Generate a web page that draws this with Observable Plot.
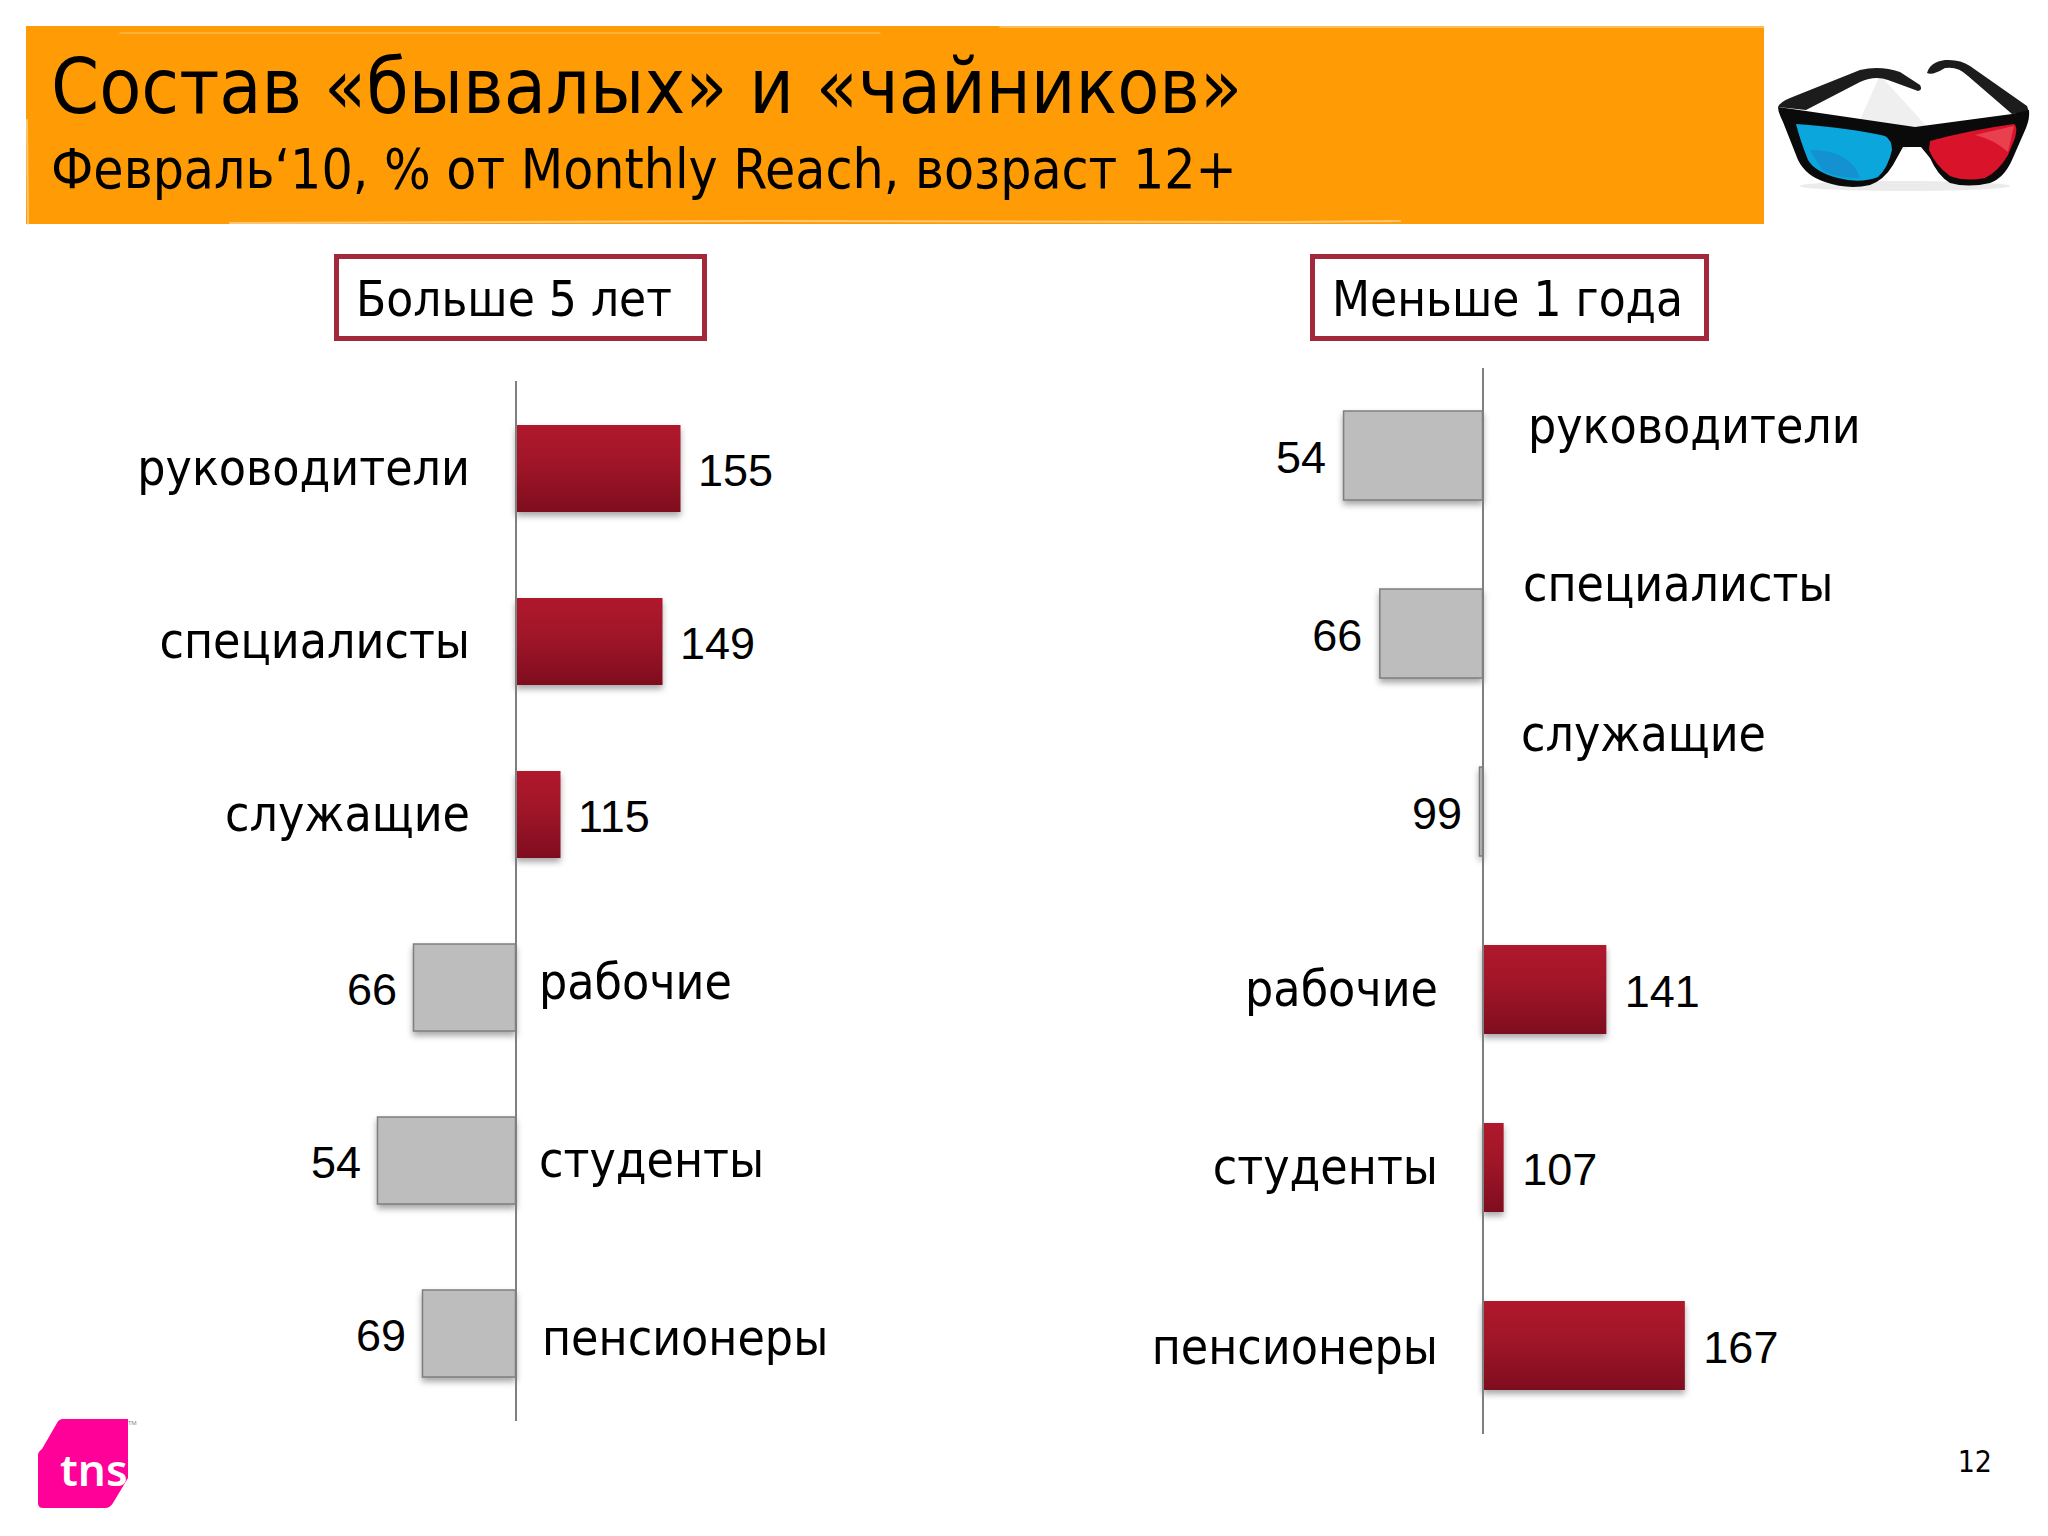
<!DOCTYPE html>
<html lang="ru"><head><meta charset="utf-8">
<script src="https://cdn.jsdelivr.net/npm/d3@7"></script>
<script src="https://cdn.jsdelivr.net/npm/@observablehq/plot@0.6"></script>
<style>
html,body{margin:0;background:#fff}
#page{position:relative;width:2048px;height:1536px;overflow:hidden;font-family:"DejaVu Sans Condensed","Noto Sans",sans-serif;color:#000}
#banner{position:absolute;left:26px;top:26px;width:1738px;height:198px;background:#ff9c05}
.t{position:absolute;white-space:nowrap;line-height:1}
.box{position:absolute;top:254px;height:77px;border:5px solid #a3283c;background:#fff;box-sizing:content-box}
.panel{position:absolute;overflow:visible}
.panel svg{overflow:visible;background:none;position:absolute;left:0;top:0}
.bar-mark{filter:drop-shadow(0 4px 3px rgba(0,0,0,.35))}
</style></head><body>
<div id="page">
<div id="banner"></div>
<div class="t" id="title" style="left:51px;top:49px;font-size:76.6px">Состав «бывалых» и «чайников»</div>
<div class="t" id="subtitle" style="left:51px;top:142px;font-size:54.7px">Февраль‘10, % от Monthly Reach, возраст 12+</div>
<div class="box" style="left:334px;width:363px"></div>
<div class="box" style="left:1310px;width:389px"></div>
<div class="t" style="left:356px;top:275px;font-size:49px">Больше 5 лет</div>
<div class="t" style="left:1332px;top:275px;font-size:49px">Меньше 1 года</div>
<div class="panel" id="left" style="left:0;top:381px;width:1024px;height:1040px"></div>
<div class="panel" id="right" style="left:1024px;top:368px;width:1024px;height:1066px"></div>
<svg style="position:absolute;left:0;top:0" width="2048" height="1536">
  <g stroke="#ffd9a0" fill="none" stroke-linecap="round" opacity=".7">
    <path d="M120 33 L880 33" stroke-width="1"/>
    <path d="M230 223 L760 221 L1290 222 L1400 221" stroke-width="2"/>
    <path d="M1000 27 L1764 27" stroke-width="1.5"/>
    <path d="M27 120 L28 224" stroke-width="2"/>
  </g>
  <ellipse cx="1905" cy="186" rx="105" ry="5" fill="#ddd" opacity=".6"/>
  <path d="M1880 75 L1930 130 L1905 150 L1860 120 Z" fill="#e8e8e8" opacity=".7"/>
  <path d="M1778 107 Q1780 102 1790 98 L1860 70 Q1880 65 1900 72 L1920 85 Q1923 90 1918 91 L1888 80 Q1875 75 1860 82 L1806 110 Z" fill="#1c1c1c"/>
  <path d="M1927 73 Q1930 62 1945 60 Q1960 59 1970 66 L2027 106 L2029 112 L2012 114 L1968 76 Q1958 66 1945 68 Q1932 76 1927 73 Z" fill="#1c1c1c"/>
  <path d="M1778 107 L1806 111 L1915 127 L2012 114 L2029 110 Q2030 118 2026 128 L2012 160 Q2004 178 1990 183 Q1968 188 1950 183 Q1938 176 1930 158 L1921 147 L1903 147 L1893 165 Q1884 180 1870 185 Q1848 190 1825 182 Q1806 176 1798 160 L1783 122 Q1778 112 1778 107 Z" fill="#0a0a0a"/>
  <path d="M1796 124 Q1850 128 1885 136 Q1892 140 1892 150 Q1888 168 1878 177 Q1860 184 1838 178 Q1815 172 1808 160 Q1800 140 1796 124 Z" fill="#0aa6dc"/>
  <path d="M1810 150 Q1850 150 1860 178 Q1835 178 1822 170 Z" fill="#1391d0"/>
  <path d="M1930 141 Q1970 130 2014 124 Q2018 126 2015 138 L2008 155 Q1998 172 1985 178 Q1965 182 1950 176 Q1935 165 1929 150 Z" fill="#d9142a"/>
  <path d="M1975 135 Q2005 128 2014 126 L2008 152 Q1995 140 1975 135 Z" fill="#e8404f"/>
  <path d="M42 1449 L57 1423 Q59 1419 63 1419 L128 1419 L128 1478 L113 1503 Q110 1508 105 1508 L43 1508 Q38 1508 38 1503 L38 1455 Q38 1452 42 1449 Z" fill="#ff0099"/>
  <clipPath id="lg"><rect x="38" y="1419" width="90" height="89"/></clipPath>
  <text x="60" y="1486" font-size="44" font-weight="600" font-family="Noto Sans" fill="#fff" clip-path="url(#lg)">tns</text>
  <text x="128" y="1425" font-size="6" font-family="Noto Sans" fill="#888">TM</text>
</svg>
<div class="t" style="right:56px;top:1447px;font-size:30px">12</div>
</div>
<script>
const categories = ["руководители","специалисты","служащие","рабочие","студенты","пенсионеры"];
const over5Years = [155,149,115,66,54,69];
const under1Year = [54,66,99,141,107,167];

// label placement relative to the axis (layout only)
const over5Labels = [[-46,0],[-46,0],[-46,0],[23,-5],[23,0],[26,5]].map(([dx,dy])=>({dx,dy}));
const under1Labels = [[45,-29],[40,-49],[38,-77],[-45,0],[-45,0],[-45,2]].map(([dx,dy])=>({dx,dy}));

function panel(id, values, labels, axisX, w, h, band, px, valueDy, valueGap){
  const rows = categories.map((category,i)=>({category,value:values[i]}));
  const hi = d=>d.value>100, lo = d=>d.value<=100;
  return document.getElementById(id).appendChild(Plot.plot({
    width:w,height:h,margin:0,
    x:{domain:[100-axisX/px,100+(w-axisX)/px],range:[0,w],axis:null},
    y:{domain:categories,axis:null,range:band,paddingInner:.5,paddingOuter:0},
    marks:[
      ()=>{const s=d3.create("svg:defs");
        const g=s.append("linearGradient").attr("id","redFill").attr("x1",0).attr("y1",0).attr("x2",0).attr("y2",1);
        g.append("stop").attr("offset","0").attr("stop-color","#b0182c");
        g.append("stop").attr("offset","0.45").attr("stop-color","#a01528");
        g.append("stop").attr("offset","1").attr("stop-color","#7e0d1e");
        return s.node();},
      Plot.barX(rows.filter(hi),{x1:()=>100,x2:"value",y:"category",fill:"url(#redFill)",className:"bar-mark"}),
      Plot.barX(rows.filter(lo),{x1:()=>100,x2:"value",y:"category",fill:"#bdbdbd",stroke:"#7f7f7f",strokeWidth:1.5,className:"bar-mark"}),
      Plot.ruleX([100],{stroke:"#7f7f7f",strokeWidth:2}),
      Plot.text(rows.filter(hi),{x:"value",y:"category",text:d=>String(d.value),textAnchor:"start",dx:valueGap,dy:valueDy,fontSize:45,fontFamily:"Liberation Sans",fill:"#000"}),
      Plot.text(rows.filter(lo),{x:"value",y:"category",text:d=>String(d.value),textAnchor:"end",dx:-valueGap,dy:valueDy,fontSize:45,fontFamily:"Liberation Sans",fill:"#000"}),
      ...rows.map((d,i)=>Plot.text([d],{x:()=>100,y:"category",text:"category",
        dx:labels[i].dx,dy:labels[i].dy,textAnchor:labels[i].dx<0?"end":"start",fontSize:49.5,fontFamily:"DejaVu Sans Condensed",fill:"#000"}))
    ]
  }));
}
panel("left",over5Years,over5Labels,515.5,1024,1040,[41,997.5],3,3,17);
panel("right",under1Year,under1Labels,458.5,1024,1066,[42,1022],3.02,3,18);
</script>
</body></html>
